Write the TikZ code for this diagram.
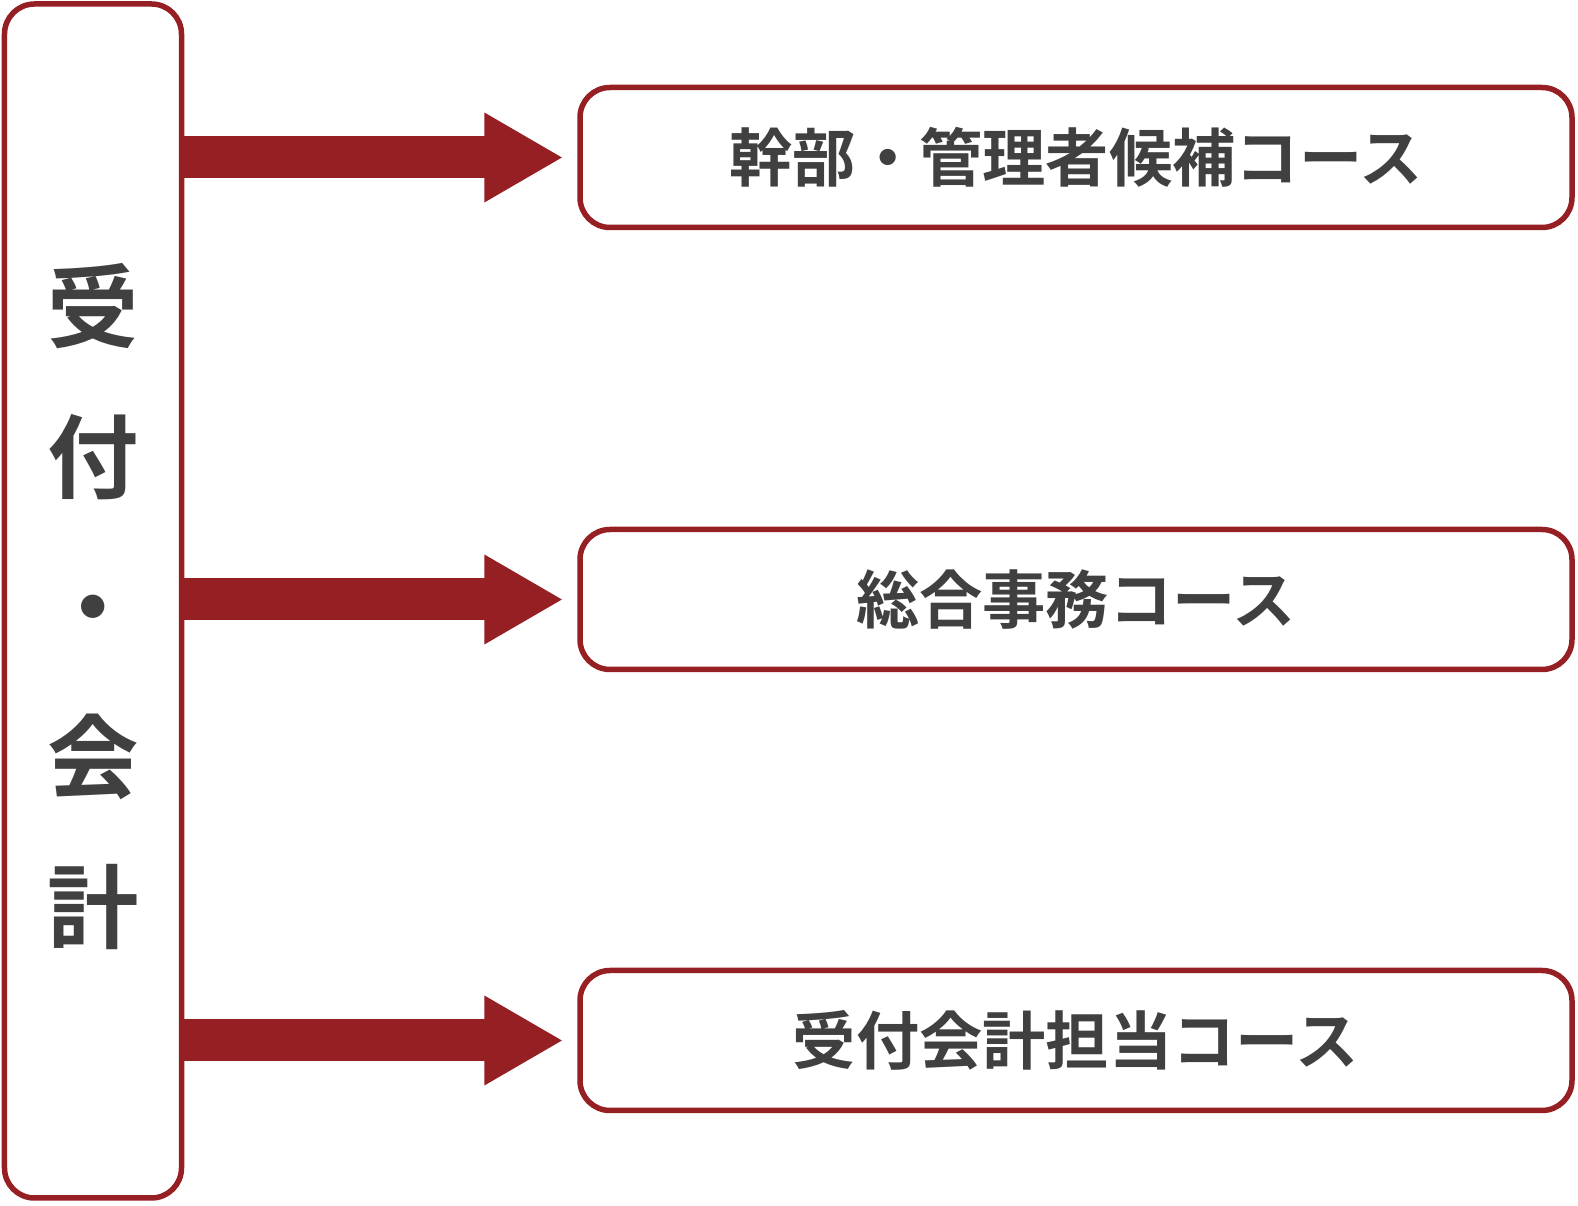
\documentclass[tikz,border=0pt]{standalone}
\usepackage{fontspec}
\setmainfont{Noto Sans CJK JP}[BoldFont={* Bold}]
\usetikzlibrary{arrows.meta}
\definecolor{kred}{HTML}{951F22}
\definecolor{kgray}{HTML}{404040}

\begin{document}
\begin{tikzpicture}[every node/.style={draw=kred,line width=0.55mm,rounded corners=3mm,
    fill=white,text=kgray,inner sep=0pt,font=\bfseries},
  course/.style={minimum width=9.92cm,minimum height=1.40cm,font=\bfseries\fontsize{18}{20}\selectfont},
  bigarrow/.style={draw=kred,line width=4.2mm,-{Triangle[length=7.9mm,width=8.4mm]}}]
  \useasboundingbox (0,0) rectangle (15.78,12.06);

  \node[minimum width=1.77cm,minimum height=11.94cm,align=center,
        font=\bfseries\fontsize{26}{42.7}\selectfont] (uke) at (0.93,6.05)
    {\rule{0pt}{25.5pt}受\\付\\・\\会\\計};

  \node[course] (kanbu)  at (10.76,10.485) {幹部・管理者候補コース};
  \node[course] (sogo)   at (10.76,6.065)  {総合事務コース};
  \node[course] (kaikei) at (10.76,1.655)  {受付会計担当コース};

  \path
    (uke.east |- kanbu.west)  edge[bigarrow] ([xshift=-1.4mm]kanbu.west)
    (uke.east |- sogo.west)   edge[bigarrow] ([xshift=-1.4mm]sogo.west)
    (uke.east |- kaikei.west) edge[bigarrow] ([xshift=-1.4mm]kaikei.west);

\end{tikzpicture}
\end{document}
